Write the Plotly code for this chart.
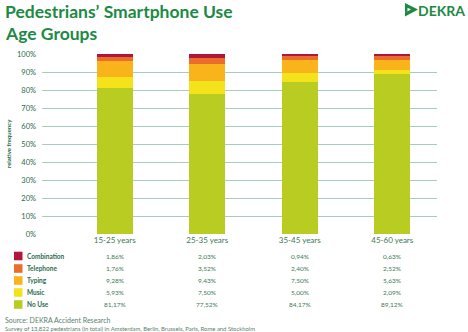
import plotly.graph_objects as go

# Age groups and share of each smartphone activity (percent of pedestrians)
age_groups = ["15-25 years", "25-35 years", "35-45 years", "45-60 years"]
no_use = [81.17, 77.52, 84.17, 89.12]
music = [5.93, 7.50, 5.00, 2.09]
typing = [9.28, 9.43, 7.50, 5.63]
telephone = [1.76, 3.52, 2.40, 2.52]
combination = [1.86, 2.03, 0.94, 0.63]

y_ticks = [0, 10, 20, 30, 40, 50, 60, 70, 80, 90, 100]
y_tick_labels = [f"{v}%" for v in y_ticks]

# stacking order, bottom to top
series = [
    ("No Use", no_use, "#b8cc22"),
    ("Music", music, "#f4e31b"),
    ("Typing", typing, "#f8b41a"),
    ("Telephone", telephone, "#eb6d2c"),
    ("Combination", combination, "#b2173b"),
]

W, H = 468, 332
ML, MR, MT, MB = 42, 31, 54, 98
PW, PH = W - ML - MR, H - MT - MB

GREEN = "#1d8a44"
DARK = "#2b6a4c"
TEXT = "#3a7a58"
NOTE = "#5a7f6c"


def px(x):
    return (x - ML) / PW


def py(y):
    return (H - MB - y) / PH


fig = go.Figure()
x_idx = list(range(len(age_groups)))
for name, vals, col in series:
    fig.add_trace(go.Bar(
        x=x_idx, y=vals, name=name, width=0.39,
        marker=dict(color=col, line=dict(width=0)),
        showlegend=False,
    ))

annotations = []
shapes = []

# title
annotations.append(dict(text="<b>Pedestrians’ Smartphone Use</b>", xref="paper", yref="paper",
                        x=px(3), y=py(12), xanchor="left", yanchor="middle", showarrow=False,
                        font=dict(family="Lato", size=17.5, color=GREEN)))
annotations.append(dict(text="<b>Age Groups</b>", xref="paper", yref="paper",
                        x=px(3), y=py(33.5), xanchor="left", yanchor="middle", showarrow=False,
                        font=dict(family="Lato", size=17.5, color=GREEN)))

# DEKRA logo
annotations.append(dict(text="<b>DEKRA</b>", xref="paper", yref="paper",
                        x=px(467), y=py(10.5), xanchor="right", yanchor="middle", showarrow=False,
                        font=dict(family="Lato", size=14, color=GREEN)))
shapes.append(dict(type="path", xref="paper", yref="paper",
                   path=(f"M{px(405)},{py(3)} L{px(418)},{py(9.5)} L{px(405)},{py(16.5)} "
                         f"L{px(405)},{py(12.5)} L{px(411)},{py(9.5)} L{px(407.5)},{py(7.8)} "
                         f"L{px(407.5)},{py(11)} L{px(405)},{py(12.5)} Z"),
                   fillcolor=GREEN, line=dict(width=0)))

# y axis title
annotations.append(dict(text="<b>relative frequency</b>", xref="paper", yref="paper",
                        x=px(8), y=py(144), textangle=-90, showarrow=False,
                        xanchor="center", yanchor="middle",
                        font=dict(family="Lato", size=6, color=DARK)))

# data table under the chart
row_y = {"Combination": 256, "Telephone": 268.5, "Typing": 280.5, "Music": 292.5, "No Use": 304.5}
for name, vals, col in series:
    yy = row_y[name]
    shapes.append(dict(type="rect", xref="paper", yref="paper",
                       x0=px(14), x1=px(22.5), y0=py(yy - 4.3), y1=py(yy + 4.3),
                       fillcolor=col, line=dict(width=0)))
    annotations.append(dict(text=f"<b>{name}</b>", xref="paper", yref="paper",
                            x=px(25), y=py(yy), xanchor="left", yanchor="middle", showarrow=False,
                            font=dict(family="Lato", size=6.5, color=DARK)))
    for i, v in enumerate(vals):
        annotations.append(dict(text=f"{v:.2f}%".replace(".", ","), xref="x", yref="paper",
                                x=i, y=py(yy), xanchor="center", yanchor="middle", showarrow=False,
                                font=dict(family="Lato", size=6.5, color=TEXT)))

# source notes
annotations.append(dict(text="Source: DEKRA Accident Research", xref="paper", yref="paper",
                        x=px(3), y=py(319.5), xanchor="left", yanchor="middle", showarrow=False,
                        font=dict(family="Lato", size=7, color=NOTE)))
annotations.append(dict(text="Survey of 13,822 pedestrians (in total) in Amsterdam, Berlin, Brussels, Paris, Rome and Stockholm",
                        xref="paper", yref="paper",
                        x=px(3), y=py(328), xanchor="left", yanchor="middle", showarrow=False,
                        font=dict(family="Lato", size=5.9, color=NOTE)))

fig.update_layout(
    width=W, height=H,
    margin=dict(l=ML, r=MR, t=MT, b=MB),
    paper_bgcolor="white", plot_bgcolor="white",
    barmode="stack", bargap=0,
    showlegend=False,
    annotations=annotations,
    shapes=shapes,
    xaxis=dict(range=[-0.786, 3.484], tickmode="array", tickvals=x_idx, ticktext=age_groups,
               showgrid=False, zeroline=False, showline=False, ticks="",
               tickfont=dict(family="Lato", size=8, color=TEXT), fixedrange=True),
    yaxis=dict(range=[0, 100], tickmode="array", tickvals=y_ticks, ticktext=y_tick_labels,
               showgrid=True, gridcolor="#a9cdbc", gridwidth=1, zeroline=False,
               showline=False, ticks="", ticklabelstandoff=5,
               tickfont=dict(family="Lato", size=7.5, color=DARK), fixedrange=True),
)

fig.write_html("out.html")
